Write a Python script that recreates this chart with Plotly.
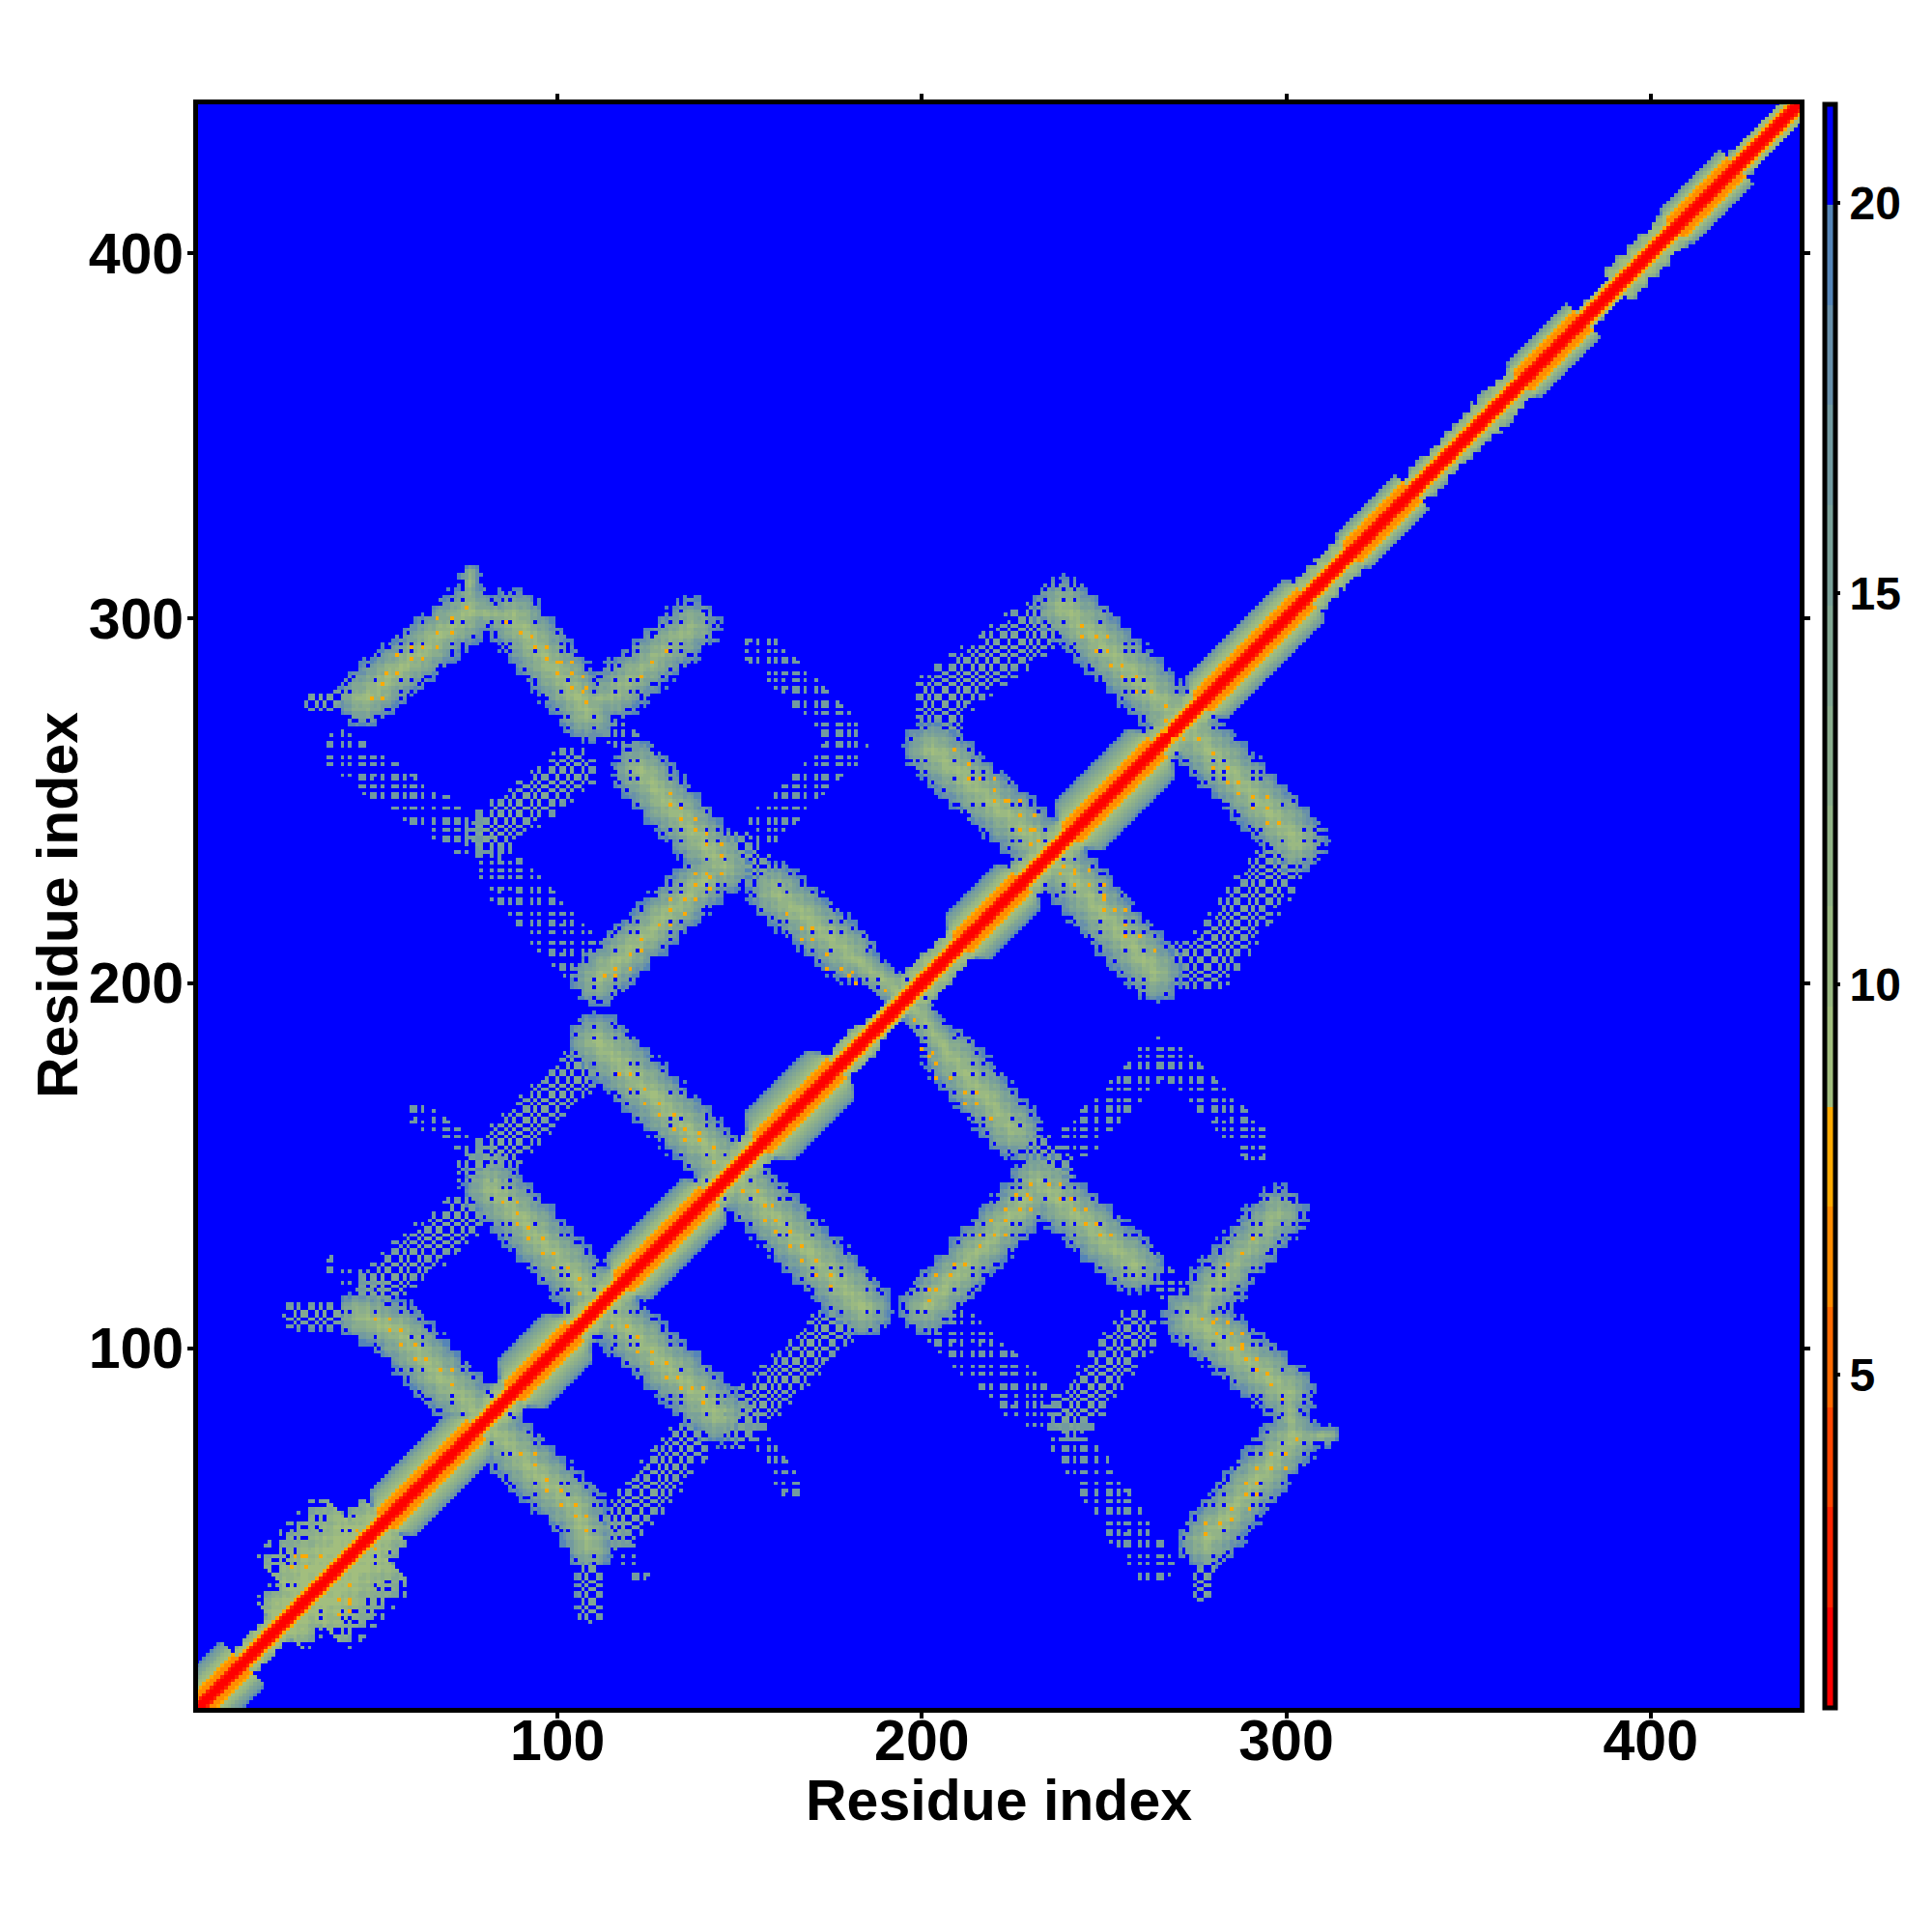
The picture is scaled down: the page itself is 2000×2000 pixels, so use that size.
import numpy as np
import plotly.graph_objects as go

# NOTE ON THE DATA: the reference has ~194k cells, which cannot be transcribed one by one.
# Band geometry, diagonal segments, colour levels and the hot-spot cells are READ from the
# picture (estimates, in residue units). RESIDUE_MARKS / HOLE_RESIDUES are hand-typed,
# approximate stand-ins for the row/column texture: not an exact reading of each cell.

N_RES = 441
TICKS = [100, 200, 300, 400]
CBAR_TICKS = [5, 10, 15, 20]
Z_MIN, Z_MAX = 0.74, 21.26
LEVEL_COLOURS = ["#FF0000", "#FF2400", "#FF4600", "#FF6A00", "#FF8C00", "#FFAA00",
                 "#A2BE7E", "#9AB982", "#92B387", "#8AAD8D", "#82A793", "#7AA199",
                 "#729AA0", "#6890AA", "#5585B8", "#0000FF"]

# diagonal segments (residue along the diagonal, half width in |i-j|, smooth or speckled)
DIAG_START = [1, 14, 24, 30, 48, 53, 78, 88, 105, 118, 142, 156, 177, 186, 197, 211, 228, 241, 265, 277, 306, 318, 335, 353, 365, 382, 391, 407, 424]
DIAG_END = [14, 24, 30, 48, 53, 78, 88, 105, 118, 142, 156, 177, 186, 197, 211, 228, 241, 265, 277, 306, 318, 335, 353, 365, 382, 391, 407, 424, 442]
DIAG_WIDTH = [12, 7, 14, 26, 14, 12.5, 8, 13, 8, 12, 8, 13, 7, 5, 8, 12, 8, 13, 8, 11.5, 8, 9.5, 7, 8, 9.5, 5, 8, 9.5, 6]
DIAG_SMOOTH = [1, 0, 0, 0, 0, 1, 0, 1, 0, 1, 0, 1, 0, 0, 0, 1, 0, 1, 0, 1, 0, 1, 0, 0, 1, 0, 0, 1, 0]
CORE_WIDE = [0, 0, 1, 4, 4, 5]
CORE_THIN = [0, 0, 1, 5]

# off-diagonal bands above the diagonal (the map is symmetric)
BAND_X1 = [47, 76, 75, 88, 115, 108, 122.5, 111, 33, 81, 41, 85, 156, 157, 115, 203, 239, 205, 208, 148, 160, 180, 80, 68, 56, 46, 50, 38, 82, 111, 79, 62]
BAND_Y1 = [278, 302, 303, 300, 279, 277, 258.5, 201, 277, 241, 263, 230, 292, 243, 270, 264, 303, 278, 270, 238, 225, 208, 80, 92, 105, 109, 116, 122, 144, 184, 149, 164]
BAND_X2 = [76, 88, 76, 108.5, 137, 117, 145.6, 141, 46, 104, 76, 106, 180, 180, 122, 235, 271, 235, 208, 160, 180, 196, 68, 56, 46, 28, 74, 50, 112, 148, 106, 82]
BAND_Y2 = [302, 300, 312, 274.5, 298, 279, 232, 229, 279, 258, 240, 207, 267, 265, 262, 236, 272, 300, 277, 226, 208, 196, 92, 105, 109, 109, 136, 116, 112, 148, 176, 152]
BAND_HALF = [8.5, 5, 3, 9, 8.5, 4, 8.5, 8, 3, 7, 6, 7, 5, 5, 4, 9, 9, 8, 3, 5, 8.5, 5, 9, 9, 7.5, 4, 7, 3, 9, 9, 7, 3]
BAND_KIND = ["dense", "light", "light", "dense", "light", "light", "dense", "dense", "medium", "medium",
             "faint", "faint", "faint", "faint", "faint", "dense", "dense", "medium", "medium", "medium",
             "dense", "dense", "dense", "dense", "dense", "medium", "medium", "faint", "dense", "dense",
             "medium", "faint"]

# orange hot spots (x residue, y residue)
SPECK_X = [53, 56, 52, 49, 52, 56, 60, 63, 63, 60, 67, 67, 67, 71, 71, 75, 86, 90, 93, 94, 97, 97, 100, 101, 104, 100, 104, 107, 104, 108, 107, 108,
           130, 126, 123, 131, 131, 134, 134, 138, 138, 141, 141, 145, 145, 138, 141, 142, 145, 138, 142, 131, 135, 138, 131, 135, 128, 131, 123, 123, 120, 120, 116, 116, 113,
           85, 89, 89, 89, 92, 92, 96, 96, 99, 99, 103, 106, 106, 117, 120, 120, 124, 124, 128, 128, 132, 132, 135, 135, 139, 139, 143, 143,
           71, 71, 68, 64, 61, 61, 57, 57, 54, 54, 50, 30, 28, 35, 27, 31, 31, 31, 45,
           209, 213, 213, 216, 220, 220, 220, 223, 224, 227, 227, 231, 227, 230, 231, 230, 232,
           244, 244, 248, 251, 248, 251, 252, 255, 255, 259, 259, 263, 267, 267, 267,
           163, 167, 170, 167, 170, 174, 174, 178, 181, 180, 182, 190]
SPECK_Y = [285, 285, 282, 278, 278, 290, 289, 289, 292, 292, 292, 296, 300, 300, 296, 303, 299, 296, 295, 292, 292, 289, 288, 288, 288, 285, 285, 284, 281, 281, 280, 277,
           291, 288, 284, 252, 249, 248, 245, 245, 242, 241, 238, 238, 235, 230, 230, 229, 230, 227, 226, 223, 223, 223, 220, 219, 216, 216, 212, 209, 208, 204, 204, 202, 202,
           140, 140, 137, 134, 133, 130, 130, 126, 126, 122, 122, 119, 115, 175, 175, 171, 171, 167, 167, 164, 164, 160, 160, 157, 157, 159, 155, 151,
           90, 94, 94, 97, 97, 101, 101, 105, 105, 108, 108, 43, 43, 43, 40, 40, 43, 40, 50,
           264, 260, 256, 256, 256, 253, 250, 250, 250, 250, 246, 246, 242, 242, 242, 238, 239,
           298, 295, 295, 295, 291, 291, 287, 287, 284, 284, 280, 280, 276, 272, 269,
           219, 215, 215, 212, 212, 208, 204, 204, 203, 202, 200, 198]

# approximate texture marks, one character per residue
RESIDUE_MARKS = ("10110010110100110101100101101001101011001010011011"
                 "01001101011010010011011010011001011010110010100110"
                 "11010010110011010100110110010101101001100101101010"
                 "01101001010110110100101100110101001011011001010011"
                 "01011001101001011010011011001010110100110101100100"
                 "11010110010100110110100101100110101001101011001011"
                 "00101101001101011001001101101010010110011011010010"
                 "10110100101100110100110101101001010011011001011010"
                 "01101001011010011001011010110")
HOLE_RESIDUES = [2, 5, 9, 16, 19, 26, 28, 35, 41, 43, 50, 57, 60, 63, 71, 74, 82, 85, 87, 94, 101, 103, 110, 116, 120, 122, 131,
                 134, 141, 144, 146, 153, 161, 163, 170, 175, 178, 185, 188, 196, 199, 201, 209, 214, 217, 225, 227, 234, 239,
                 242, 249, 256, 258, 261, 270, 273, 280, 283, 291, 293, 299, 305, 308, 315, 318, 326, 328, 331, 340, 343, 350,
                 352, 359, 366, 368, 375, 379, 386, 389, 397, 399, 406, 410, 412, 420, 425, 428, 435, 438]

res = np.arange(1, N_RES + 1)
X, Y = np.meshgrid(res, res)           # rows = y residue, columns = x residue
on = np.array([c == "1" for c in RESIDUE_MARKS.ljust(N_RES, "0")[:N_RES]])
hole = np.isin(res, HOLE_RESIDUES)
ON_X, ON_Y = on[X - 1], on[Y - 1]
HOLE_XY = hole[X - 1] & hole[Y - 1]
PLAID = ON_X.astype(int) + ON_Y.astype(int) - 1
level = np.full((N_RES, N_RES), 15.0)


def paint(mask, lv):
    level[mask] = np.minimum(level[mask], lv[mask])


# bands
for x1, y1, x2, y2, hw, kind in zip(BAND_X1, BAND_Y1, BAND_X2, BAND_Y2, BAND_HALF, BAND_KIND):
    dx, dy = x2 - x1, y2 - y1
    u = np.clip(((X - x1) * dx + (Y - y1) * dy) / (dx * dx + dy * dy), 0, 1)
    t = np.hypot(X - x1 - u * dx, Y - y1 - u * dy) / hw
    inside = t <= 1
    if kind == "dense":
        m = inside & ~((t > 0.7) & ~(ON_X | ON_Y)) & ~((t > 0.1) & HOLE_XY) & ~((t > 0.9) & ~(ON_X & ON_Y))
        paint(m, np.clip(np.floor(7 + 8 * t) + PLAID, 6, 14))
    elif kind == "light":
        m = inside & ~((t > 0.55) & ~(ON_X | ON_Y)) & ~HOLE_XY & ~((t > 0.85) & ~(ON_X & ON_Y))
        paint(m, np.clip(np.floor(8 + 7 * t) + PLAID, 6, 14))
    elif kind == "medium":
        m = inside & (ON_X ^ ON_Y) & ~((t > 0.75) & ~ON_X)
        paint(m, np.clip(np.floor(10 + 3 * t) + PLAID, 8, 14))
    else:
        paint(inside & ON_X & ON_Y & ~HOLE_XY, np.full(level.shape, 12.0))

# diagonal
S, D = (X + Y) / 2, np.abs(X - Y)
for s0, s1, w, smooth in zip(DIAG_START, DIAG_END, DIAG_WIDTH, DIAG_SMOOTH):
    seg = (S >= s0) & (S < s1)
    core = CORE_WIDE if smooth else CORE_THIN
    n = len(core)
    if smooth:
        w_eff = np.minimum(w, 8 + 2.5 * np.minimum(S - s0, s1 - S)) if s0 > 1 else np.full(S.shape, float(w))
        frac = np.clip((D - n) / np.maximum(w_eff - n, 1), 0, 1)
        paint(seg & (D <= w_eff), np.floor(6 + 8 * frac))
    else:
        frac = np.clip((D - n) / max(w - n, 1), 0, 1)
        m = seg & (D <= w) & ~((frac > 0.5) & ~(ON_X | ON_Y)) & ~((frac > 0.1) & HOLE_XY) & ~((frac > 0.85) & ~(ON_X & ON_Y))
        paint(m, np.clip(np.floor(6 + 5 * frac) + PLAID, 6, 13))
    for k, lv in enumerate(core):
        paint(seg & (D == k), np.full(level.shape, float(lv)))

# symmetric map
level = np.minimum(level, level.T)
for sx, sy in zip(SPECK_X, SPECK_Y):
    level[sy - 1, sx - 1] = level[sx - 1, sy - 1] = 5

step = (Z_MAX - Z_MIN) / len(LEVEL_COLOURS)
z = np.round(Z_MIN + (level + 0.5) * step, 3)
scale = []
for k, c in enumerate(LEVEL_COLOURS):
    scale += [[k / len(LEVEL_COLOURS), c], [(k + 1) / len(LEVEL_COLOURS), c]]

FONT = "Liberation Sans, Arial, sans-serif"
W, H = 1984, 1984
OFF = 8
L_, R_, T_, B_ = 205 - OFF, 1863 - OFF, 108 - OFF, 1768 - OFF
PW, PH = R_ - L_, B_ - T_

fig = go.Figure(go.Heatmap(
    z=z.tolist(), x=res.tolist(), y=res.tolist(), zmin=Z_MIN, zmax=Z_MAX, colorscale=scale,
    hoverinfo="skip",
    colorbar=dict(
        x=(1889.5 - OFF - L_) / PW, xanchor="left", xpad=0, ypad=0, y=0, yanchor="bottom", len=1,
        lenmode="fraction", thickness=11, thicknessmode="pixels", outlinecolor="black", outlinewidth=5,
        tickmode="array", tickvals=CBAR_TICKS, ticktext=[str(v) for v in CBAR_TICKS],
        ticks="outside", ticklen=3, tickwidth=4, tickcolor="black",
        tickfont=dict(family=FONT, size=48, color="black", weight="bold"))))
axis = dict(tickmode="array", tickvals=TICKS, ticktext=[str(v) for v in TICKS], ticks="outside", ticklen=6,
            tickwidth=4, tickcolor="black", showline=True, linecolor="black", linewidth=5, mirror="ticks",
            showgrid=False, zeroline=False, tickfont=dict(family=FONT, size=59, color="black", weight="bold"))
fig.update_xaxes(range=[1.35, 440.9], ticklabelstandoff=-28, **axis)
fig.update_yaxes(range=[1.4, 440.85], ticklabelstandoff=-8, **axis)
title_font = dict(family=FONT, size=59, color="black", weight="bold")
fig.add_annotation(text="Residue index", font=title_font, showarrow=False, xref="paper", yref="paper",
                   x=(1034 - OFF - L_) / PW, y=(B_ - (1864 - OFF)) / PH, xanchor="center", yanchor="middle")
fig.add_annotation(text="Residue index", font=title_font, showarrow=False, xref="paper", yref="paper", textangle=-90,
                   x=(60 - OFF - L_) / PW, y=(B_ - (937 - OFF)) / PH, xanchor="center", yanchor="middle")
fig.update_layout(width=W, height=H, paper_bgcolor="white", plot_bgcolor="white", showlegend=False,
                  margin=dict(l=L_, r=W - R_, t=T_, b=H - B_, autoexpand=False))
fig.write_html("out.html")
